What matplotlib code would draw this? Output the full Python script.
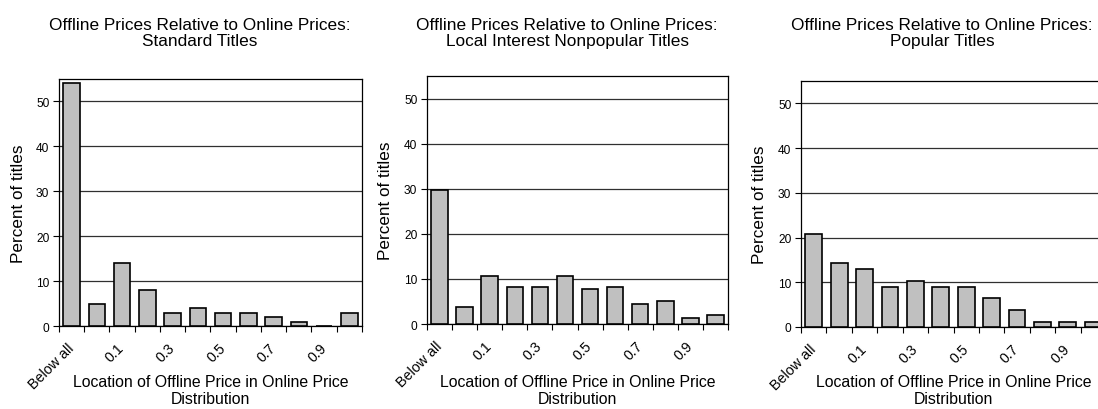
import matplotlib.pyplot as plt
from matplotlib.transforms import ScaledTranslation
import numpy as np

plt.rcParams['font.family'] = ['Liberation Sans', 'DejaVu Sans']

# category labels (every other one is shown on the axis)
categories = ['Below all', '0', '0.1', '0.2', '0.3', '0.4', '0.5', '0.6', '0.7', '0.8', '0.9', '1']

standard = [54, 5, 14, 8, 3, 4, 3, 3, 2, 1, 0, 3]
local_nonpopular = [29.8, 3.8, 10.7, 8.3, 8.3, 10.7, 7.7, 8.3, 4.5, 5.2, 1.3, 2.0]
popular = [20.7, 14.2, 12.9, 9.0, 10.3, 9.0, 9.0, 6.4, 3.8, 1.1, 1.1, 1.1]

titles = ['Offline Prices Relative to Online Prices:\nStandard Titles',
          'Offline Prices Relative to Online Prices:\nLocal Interest Nonpopular Titles',
          'Offline Prices Relative to Online Prices:\nPopular Titles']
series = [standard, local_nonpopular, popular]

W, H = 1098, 410
fig = plt.figure(figsize=(W / 100, H / 100), dpi=100)

# axes boxes in pixels: left, top, right, bottom
boxes = [(59, 80, 362, 327), (427, 77, 728, 325), (801, 82, 1106, 328)]
title_x = [200, 567, 942]

x = np.arange(len(categories))
for vals, title, (l, t, r, b), tx in zip(series, titles, boxes, title_x):
    ax = fig.add_axes([l / W, 1 - b / H, (r - l) / W, (b - t) / H])
    ax.bar(x, vals, width=0.66, color='#c0c0c0', edgecolor='black', linewidth=1.2, zorder=3)
    ax.set_xlim(-0.5, len(categories) - 0.5)
    ax.set_ylim(0, 55)
    ax.set_yticks([0, 10, 20, 30, 40, 50])
    ax.yaxis.grid(True, color='#303030', linewidth=0.9, zorder=0)
    ax.set_axisbelow(True)

    # ticks between categories, labels on every other category
    ax.set_xticks(np.arange(len(categories) + 1) - 0.5)
    ax.set_xticklabels([])
    ax.set_xticks(x[::2], minor=True)
    ax.set_xticklabels(categories[::2], minor=True, rotation=45, ha='right', va='center',
                       rotation_mode='anchor', fontsize=10.3)
    for lab in ax.xaxis.get_minorticklabels():
        lab.set_transform(lab.get_transform() + ScaledTranslation(-3 / 100, 0, fig.dpi_scale_trans))
    ax.tick_params(axis='x', which='major', direction='out', length=4, width=0.8)
    ax.tick_params(axis='x', which='minor', length=0, pad=14)
    ax.tick_params(axis='y', direction='out', length=4, width=0.8, labelsize=8.6, pad=3)
    for s in ax.spines.values():
        s.set_linewidth(0.9)

    ax.set_ylabel('Percent of titles', fontsize=12.3, va='center')
    ax.yaxis.set_label_coords(-41 / (r - l), 0.5)
    ax.set_xlabel('Location of Offline Price in Online Price\nDistribution', fontsize=11.4, va='top')
    ax.xaxis.set_label_coords(0.5, -(375 - b) / (b - t))

    fig.text(tx / W, 1 - 33.5 / H, title, ha='center', va='center', fontsize=12.4,
             linespacing=1.05)

fig.savefig('out.png', dpi=100)
